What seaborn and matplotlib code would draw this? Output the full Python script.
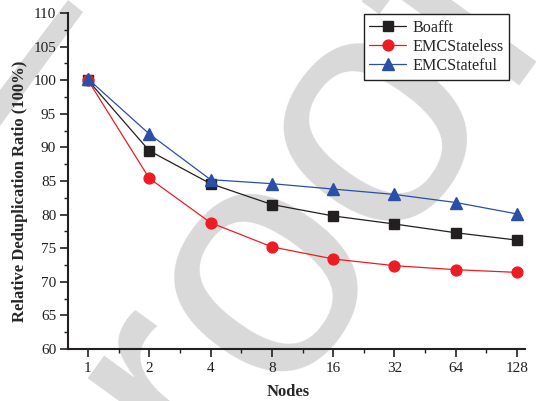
import numpy as np
import pandas as pd
import matplotlib
matplotlib.use("Agg")
import matplotlib.pyplot as plt
from matplotlib.patches import Polygon
from matplotlib.ticker import FixedLocator, NullFormatter
import seaborn as sns

nodes = [1, 2, 4, 8, 16, 32, 64, 128]
tick_labels = ["1", "2", "4", "8", "16", "32", "64", "128"]
boafft = [100.0, 89.5, 84.6, 81.5, 79.8, 78.6, 77.3, 76.2]
emc_stateless = [100.0, 85.4, 78.8, 75.2, 73.4, 72.4, 71.8, 71.4]
emc_stateful = [100.2, 92.0, 85.2, 84.6, 83.8, 83.0, 81.8, 80.1]
series_names = ["Boafft", "EMCStateless", "EMCStateful"]

df = pd.DataFrame({
    "Nodes": nodes * 3,
    "Ratio": boafft + emc_stateless + emc_stateful,
    "Series": [series_names[0]] * 8 + [series_names[1]] * 8 + [series_names[2]] * 8,
})

sns.set_theme(style="ticks")
plt.rcParams["font.family"] = ["Liberation Serif", "DejaVu Serif"]

W, H = 538, 401
fig = plt.figure(figsize=(W / 100, H / 100), dpi=100)

# background watermark layer (below the plot)
wm_color = "#d9d9d9"
ax_bg = fig.add_axes([0, 0, 1, 1], zorder=-1)
ax_bg.set_axis_off()
ax_bg.set_xlim(0, W)
ax_bg.set_ylim(0, H)
ax_bg.text(76, -257, "Proof", rotation=54, fontsize=241, color=wm_color,
           family="Liberation Sans", ha="left", va="baseline",
           rotation_mode="anchor", clip_on=False)
ax_bg.add_patch(Polygon([(68, H), (83, H - 12), (0, H - 126), (0, H - 90)],
                        closed=True, facecolor=wm_color, edgecolor="none"))

ax = fig.add_axes([68 / W, 1 - 349 / H, (525 - 68) / W, (349 - 13) / H], zorder=1)
ax.set_facecolor("none")

palette = {"Boafft": "#231f20", "EMCStateless": "#ed1c24", "EMCStateful": "#2b4fa6"}
markers = {"Boafft": "s", "EMCStateless": "o", "EMCStateful": "^"}
sizes = {"Boafft": 7.6, "EMCStateless": 7.8, "EMCStateful": 9.0}

for name in series_names:
    sub = df[df["Series"] == name]
    sns.lineplot(data=sub, x="Nodes", y="Ratio", ax=ax, color=palette[name],
                 marker=markers[name], markersize=sizes[name],
                 markeredgecolor=palette[name], markeredgewidth=1.0,
                 linewidth=0.9, label=name, zorder=3)

ax.set_xscale("log", base=2)
ax.set_xlim(0.798, 140)
ax.set_ylim(60, 110)
ax.xaxis.set_major_locator(FixedLocator(nodes))
ax.set_xticklabels(tick_labels)
ax.xaxis.set_minor_locator(FixedLocator([n * np.sqrt(2) for n in nodes[:-1]]))
ax.xaxis.set_minor_formatter(NullFormatter())
ax.set_yticks(np.arange(60, 111, 5))
ax.yaxis.set_minor_locator(FixedLocator(np.arange(62.5, 110, 5)))

for s in ["top", "right"]:
    ax.spines[s].set_visible(False)
for s in ["left", "bottom"]:
    ax.spines[s].set_linewidth(1.5)
    ax.spines[s].set_color("#231f20")

ax.tick_params(axis="both", which="major", direction="out", length=5.5, width=1.2,
               labelsize=11, colors="#231f20", pad=3)
ax.tick_params(axis="both", which="minor", direction="out", length=3, width=1.0,
               colors="#231f20")
ax.tick_params(axis="x", which="major", pad=4)

ax.set_xlabel("Nodes", fontsize=12, fontweight="bold")
ax.xaxis.set_label_coords((288 - 68) / (525 - 68), -0.105)
ax.set_ylabel("Relative Deduplication Ratio (100%)", fontsize=12,
              fontweight="bold")
ax.yaxis.set_label_coords(-0.088, 0.47)

leg = ax.legend(loc="upper right", bbox_to_anchor=((509 - 68) / 457, (349 - 14) / 336),
                borderaxespad=0, fontsize=11.6,
                frameon=True, fancybox=False, edgecolor="#231f20",
                handlelength=2.3, borderpad=0.35, labelspacing=0.2,
                handletextpad=0.35)
leg.get_frame().set_linewidth(1.0)
leg.get_frame().set_facecolor("white")
leg.get_frame().set_alpha(1)

fig.savefig("out.png", dpi=100)
